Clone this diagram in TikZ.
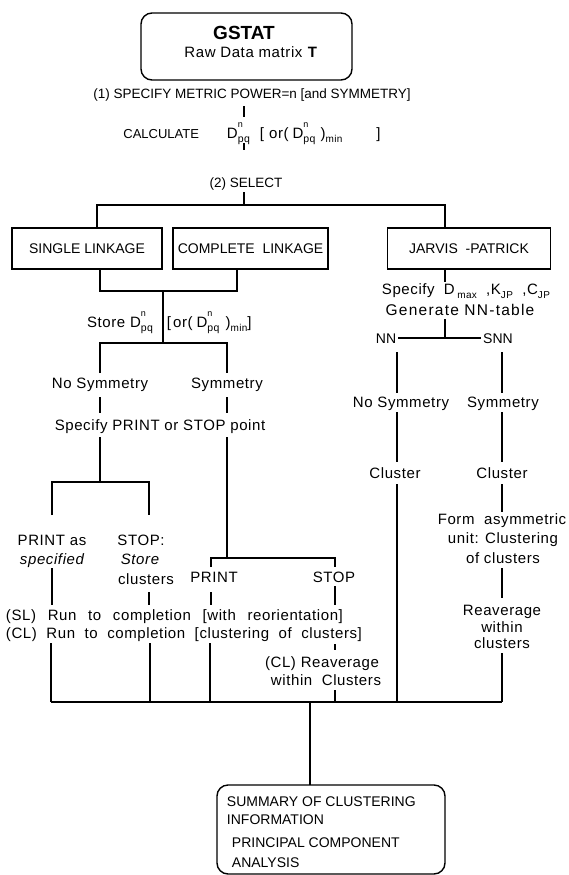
\documentclass[tikz,border=0pt]{standalone}
\usepackage{graphicx}
\usepackage{fontspec}
\setmainfont{Liberation Sans}[LetterSpace=4]
\newfontfamily\capsfont{Liberation Sans}
\newfontfamily\widefont{Liberation Sans}[LetterSpace=8]
\newcommand{\Dpq}{D\rlap{\raisebox{1.3ex}{\fontsize{9}{9}\selectfont n}}\raisebox{-0.6ex}{\fontsize{10.5}{10}\selectfont pq}}
\newcommand{\lowtxt}[1]{\raisebox{-0.6ex}{\fontsize{10}{9}\selectfont #1}}
\begin{document}
\begin{tikzpicture}[x=1pt,y=-1pt,line width=1.9pt,
  txt/.style={inner sep=0pt,anchor=base,font=\fontsize{15}{18}\selectfont},
  ctxt/.style={inner sep=0pt,anchor=base,font=\capsfont\fontsize{14}{17}\selectfont},
  stxt/.style={inner sep=0pt,anchor=base west,font=\capsfont\fontsize{14}{16}\selectfont},
  boxlbl/.style={draw,line width=1.4pt,inner sep=0pt,minimum height=41pt,font=\capsfont\fontsize{14}{17}\selectfont},
  rbox/.style={draw,line width=1.4pt,rounded corners=11pt,inner sep=0pt}]
\useasboundingbox (0,0) rectangle (568,875);

% ---------- junction coordinates ----------
\coordinate (p1t) at (244,106); \coordinate (p1b) at (244,117);
\coordinate (p2t) at (244,143); \coordinate (p2b) at (244,150);
\coordinate (p3t) at (244,192); \coordinate (p3b) at (244,205);
\coordinate (phL) at (97,205);  \coordinate (phR) at (445,205);
\coordinate (psT) at (97,228);  \coordinate (pjT) at (445,228);
\coordinate (pslB) at (100,269); \coordinate (pslJ) at (100,291);
\coordinate (pclB) at (237,269); \coordinate (pclJ) at (237,291);
\coordinate (pmJ) at (163,291); \coordinate (pmB) at (163,343);
\coordinate (pspL) at (100,343); \coordinate (pspR) at (227,343);
\coordinate (pnsT) at (100,373); \coordinate (psyT) at (227,373);
\coordinate (pnsB) at (100,397); \coordinate (pnsC) at (100,413);
\coordinate (psyB) at (227,397); \coordinate (psyC) at (227,413);
\coordinate (pL1) at (100,437); \coordinate (pL2) at (100,482);
\coordinate (pa1) at (52,482); \coordinate (pa2) at (52,515);
\coordinate (pb1) at (149,482); \coordinate (pb2) at (149,515);
\coordinate (pR1) at (227,437); \coordinate (pR2) at (227,558);
\coordinate (pm1) at (211,558); \coordinate (pm2) at (211,567);
\coordinate (ps1) at (335,558); \coordinate (ps2) at (335,567);
\coordinate (qa1) at (52,568); \coordinate (qa2) at (52,605);
\coordinate (qb1) at (149,592); \coordinate (qb2) at (149,605);
\coordinate (qc1) at (211,592); \coordinate (qc2) at (211,605);
\coordinate (qd1) at (335,586); \coordinate (qd2) at (335,605);
\coordinate (re1) at (51,643); \coordinate (re2) at (51,702);
\coordinate (rf1) at (150,643); \coordinate (rf2) at (150,702);
\coordinate (rg1) at (210,643); \coordinate (rg2) at (210,702);
\coordinate (rh1) at (335,644); \coordinate (rh2) at (335,650);
\coordinate (ri1) at (335,690); \coordinate (ri2) at (335,702);
\coordinate (jv1) at (445,269); \coordinate (jv2) at (445,282);
\coordinate (jv3) at (445,319); \coordinate (jv4) at (445,338);
\coordinate (nnR) at (398,338); \coordinate (snnL) at (481,338);
\coordinate (nn1) at (397,352); \coordinate (nn2) at (397,393);
\coordinate (nn3) at (397,412); \coordinate (nn4) at (397,462);
\coordinate (nn5) at (397,484); \coordinate (nn6) at (397,702);
\coordinate (sn1) at (502,352); \coordinate (sn2) at (502,393);
\coordinate (sn3) at (502,412); \coordinate (sn4) at (502,462);
\coordinate (sn5) at (502,484); \coordinate (sn6) at (502,512);
\coordinate (sn7) at (502,568); \coordinate (sn8) at (502,598);
\coordinate (sn9) at (502,653); \coordinate (sn10) at (502,702);
\coordinate (bot1) at (51,702); \coordinate (bot2) at (502,702);
\coordinate (ctop) at (310,702); \coordinate (cbot) at (310,785);

% ---------- top ----------
\node[rbox,minimum width=211pt,minimum height=67pt] (gstat) at (246.5,46.5) {};
\node[txt,font=\capsfont\bfseries\fontsize{19}{20}\selectfont] (gstattxt) at (244,40) {GSTAT};
\node[txt] (raw) at (251,58) {Raw Data matrix \textbf{T}};
\node[txt,font=\capsfont\fontsize{13.5}{15}\selectfont] (step1) at (252,98) {(1) SPECIFY METRIC POWER=n [and SYMMETRY]};
\draw (p1t) -- (p1b);
\node[txt,anchor=base east,font=\capsfont\fontsize{13}{15}\selectfont] (calc) at (200,138) {CALCULATE};
\node[txt,anchor=base west] (calcd) at (226,138) {\Dpq};
\node[txt,anchor=base west] (calcor) at (259,138) {[\hspace{5pt}or(\hspace{4pt}\Dpq\hspace{5pt})\lowtxt{min}\hspace{34pt}]};
\draw (p2t) -- (p2b);
\node[txt,font=\capsfont\fontsize{13.5}{15}\selectfont] (select) at (246,187) {(2) SELECT};
\draw (p3t) -- (p3b);
\draw (psT) -- (phL) -- (phR) -- (pjT);

% ---------- method boxes ----------
\node[boxlbl,minimum width=150pt] (single) at (87,248.5) {SINGLE LINKAGE};
\node[boxlbl,minimum width=155pt] (complete) at (250.5,248.5) {COMPLETE\ \ LINKAGE};
\node[boxlbl,minimum width=163pt] (jarvis) at (469,248.5) {JARVIS\ \ -PATRICK};

% ---------- single / complete linkage branch ----------
\draw (pslB) -- (pslJ) -- (pclJ) -- (pclB);
\draw (pmJ) -- (pmB);
\node[txt,anchor=base east] (store) at (154,327) {Store \Dpq};
\node[txt,anchor=base west] (storeor) at (166,327) {[\hspace{2pt}or(\hspace{4pt}\Dpq\hspace{6pt})\lowtxt{min}]};
\draw (pnsT) -- (pspL) -- (pspR) -- (psyT);
\node[txt] (nosymL) at (100,388) {No Symmetry};
\node[txt] (symL) at (227,388) {Symmetry};
\draw (pnsB) -- (pnsC);
\draw (psyB) -- (psyC);
\node[txt] (specps) at (160,430) {Specify PRINT or STOP point};
\draw (pL1) -- (pL2);
\draw (pa2) -- (pa1) -- (pb1) -- (pb2);
\draw (pR1) -- (pR2);
\draw (pm2) -- (pm1) -- (ps1) -- (ps2);
\node[txt] (printas) at (52,545) {PRINT as};
\node[txt,font=\itshape\fontsize{15}{18}\selectfont] (specified) at (52,564) {specified};
\node[txt] (stopc) at (141,545) {STOP:};
\node[txt,font=\itshape\fontsize{15}{18}\selectfont] (storeit) at (140,564) {Store};
\node[txt] (clustersL) at (146,584) {clusters};
\draw (qa1) -- (qa2);
\draw (qb1) -- (qb2);
\node[txt] (printM) at (214,582) {PRINT};
\node[txt] (stopM) at (334,582) {STOP};
\draw (qc1) -- (qc2);
\draw (qd1) -- (qd2);
\node[txt,anchor=base west] (slrun) at (5,620) {\makebox[337pt][s]{(SL) Run to completion [with reorientation]}};
\node[txt,anchor=base west] (clrun) at (5,638) {\makebox[356pt][s]{(CL) Run to completion [clustering of clusters]}};
\draw (re1) -- (re2);
\draw (rf1) -- (rf2);
\draw (rg1) -- (rg2);
\draw (rh1) -- (rh2);
\node[txt] (clrea) at (322,667) {(CL) Reaverage};
\node[txt] (withinC) at (326,685) {within\ \ Clusters};
\draw (ri1) -- (ri2);

% ---------- Jarvis-Patrick branch ----------
\draw (jv1) -- (jv2);
\node[txt,anchor=base west] (specD) at (381,294) {\makebox[168pt][s]{Specify D\,\lowtxt{max} ,K\lowtxt{JP} ,C\lowtxt{JP}}};
\node[txt,font=\widefont\fontsize{15.5}{18}\selectfont] (gen) at (460,315) {Generate NN-table};
\draw (jv3) -- (jv4);
\node[ctxt] (nn) at (386,343) {NN};
\node[ctxt] (snn) at (498,343) {SNN};
\draw (nnR) -- (snnL);
\draw (nn1) -- (nn2);
\node[txt] (nosymR) at (401,407) {No Symmetry};
\draw (nn3) -- (nn4);
\node[txt] (clusterL) at (395,478) {Cluster};
\draw (nn5) -- (nn6);
\draw (sn1) -- (sn2);
\node[txt] (symR) at (503,407) {Symmetry};
\draw (sn3) -- (sn4);
\node[txt] (clusterR) at (502,478) {Cluster};
\draw (sn5) -- (sn6);
\node[txt] (form1) at (502,524) {Form\ \ asymmetric};
\node[txt] (form2) at (503,543) {unit: Clustering};
\node[txt] (form3) at (503,563) {of clusters};
\draw (sn7) -- (sn8);
\node[txt] (reav) at (502,615) {Reaverage};
\node[txt] (withinR) at (502,632) {within};
\node[txt] (clustersR) at (502,648) {clusters};
\draw (sn9) -- (sn10);

% ---------- collection and summary ----------
\draw (bot1) -- (bot2);
\draw (ctop) -- (cbot);
\node[rbox,minimum width=228pt,minimum height=89pt] (summary) at (331,829.5) {};
\node[stxt] (sum1) at (226,806) {SUMMARY OF CLUSTERING};
\node[stxt] (sum2) at (226,824) {INFORMATION};
\node[stxt] (sum3) at (231,847) {PRINCIPAL COMPONENT};
\node[stxt] (sum4) at (231,867) {ANALYSIS};
\end{tikzpicture}
\end{document}
